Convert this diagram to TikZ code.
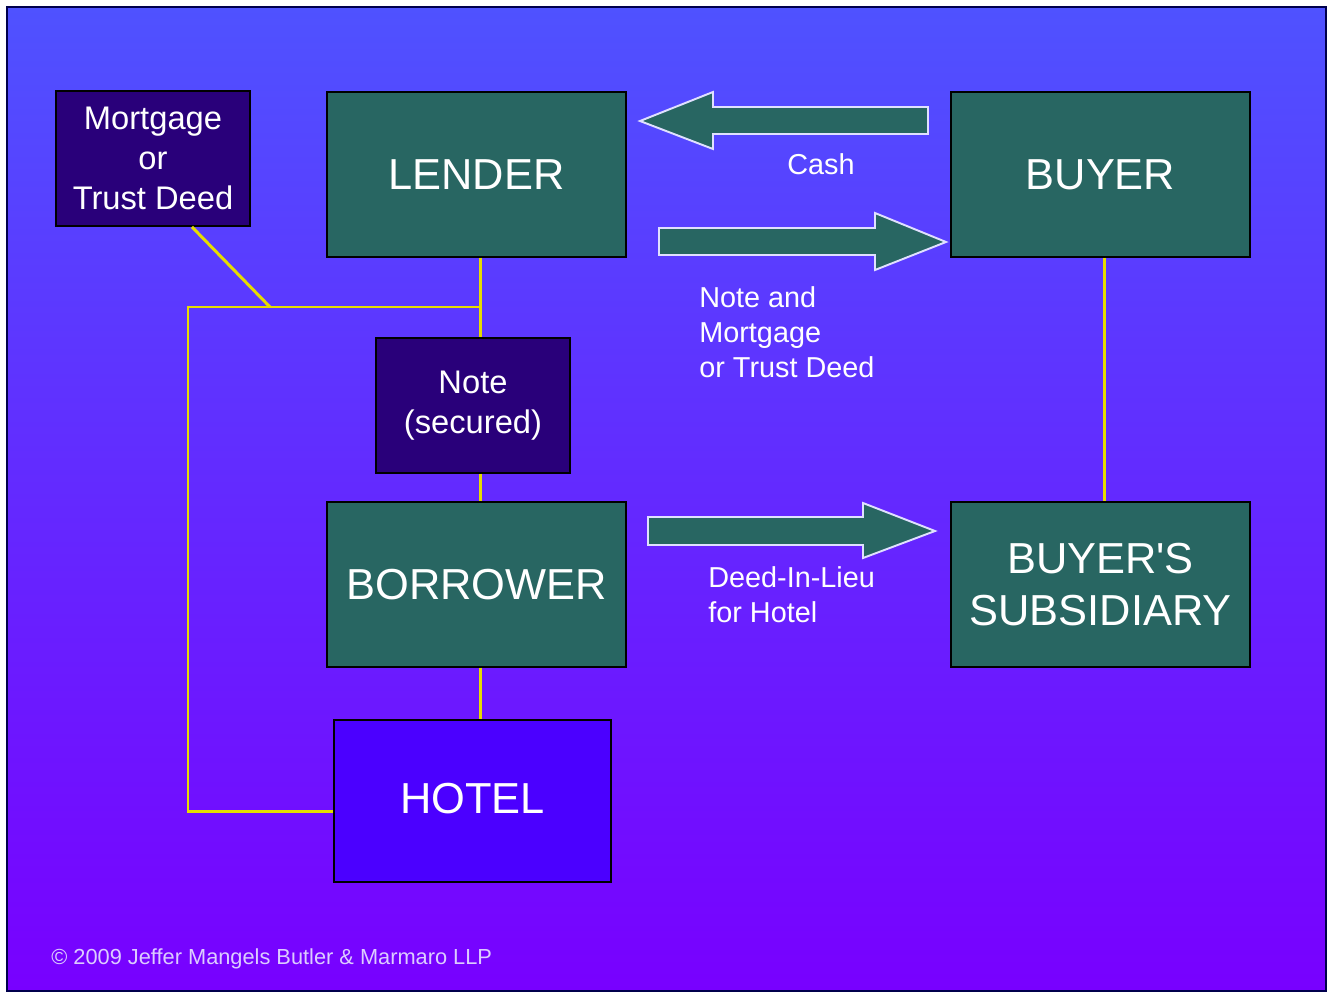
\documentclass[tikz,border=0pt]{standalone}
\usepackage{fontspec}
\setmainfont{Liberation Sans}
\usetikzlibrary{positioning, calc}
\definecolor{slideblue}{HTML}{4F52FF}
\definecolor{slidepurple}{HTML}{7800FF}
\definecolor{dealteal}{HTML}{286662}
\definecolor{docnavy}{HTML}{29007A}
\definecolor{hotelblue}{HTML}{4B00FF}
\definecolor{linkyellow}{HTML}{E6DC00}
\definecolor{creditlav}{HTML}{DCCCFF}

\begin{document}
\begin{tikzpicture}[x=0.02cm, y=-0.02cm,
  party/.style={rectangle, draw=black, line width=1.1pt, fill=dealteal, text=white,
    minimum width=5.98cm, minimum height=3.3cm, font=\fontsize{24.7}{30}\selectfont, align=center},
  paper/.style={rectangle, draw=black, line width=1.1pt, fill=docnavy, text=white,
    minimum width=3.88cm, minimum height=2.7cm, font=\fontsize{18.6}{22.8}\selectfont, align=center},
  link/.style={linkyellow, line width=1.7pt},
  flow/.style={draw=white!88!blue, line width=1.1pt, fill=dealteal, line join=miter},
  tag/.style={text=white, font=\fontsize{16.4}{19.9}\selectfont, align=left, inner sep=0pt}
]
  % slide
  \useasboundingbox[fill=white] (0,0) rectangle (1331,993);
  \shade[top color=slideblue, bottom color=slidepurple, draw=black!70!blue, line width=0.8pt]
    (7,7) rectangle (1326,991);

  % parties and papers
  \node[paper] (mortgage) at (153,158.5) {Mortgage\\or\\Trust Deed};
  \node[party] (lender) at (476.5,174.5) {LENDER};
  \node[party] (buyer) at (1100.5,174.5) {BUYER};
  \node[paper] (note) at (473,405.5) {Note\\(secured)};
  \node[party] (borrower) at (476.5,584.5) {BORROWER};
  \node[party] (subsid) at (1100.5,584.5) {BUYER\textquotesingle S\\SUBSIDIARY};
  \node[party, fill=hotelblue, minimum width=5.54cm, minimum height=3.24cm] (hotel) at (472.5,801)
    {\raisebox{0.12cm}{HOTEL}};

  % yellow links
  \coordinate (spine) at (480,307);
  \coordinate (corner) at (188,307);
  \coordinate (foot) at (188,811);
  \draw[link] ($(mortgage.south)+(39,0)$) -- (270,307);
  \draw[link] (spine |- lender.south) -- (spine |- note.north);
  \draw[link] (spine |- note.south) -- (spine |- borrower.north);
  \draw[link] (spine |- borrower.south) -- (spine |- hotel.north);
  \draw[link] (spine) -- (corner) -- (foot) -- (hotel.west |- foot);
  \draw[link] ([xshift=0.07cm]buyer.south) -- ([xshift=0.07cm]subsid.north);

  % block arrows
  \draw[flow] (640,121) -- (713,92) -- (713,107) -- (928,107) -- (928,134) -- (713,134) -- (713,149) -- cycle;
  \draw[flow] (946,242) -- (875,213) -- (875,228) -- (659,228) -- (659,255) -- (875,255) -- (875,270) -- cycle;
  \draw[flow] (935,531) -- (863,503) -- (863,517) -- (648,517) -- (648,545) -- (863,545) -- (863,558) -- cycle;

  \node[tag] (cashLbl) at (821,164) {Cash};
  \node[tag, anchor=west] (noteLbl) at (699,332) {Note and\\Mortgage\\or Trust Deed};
  \node[tag, anchor=west] (deedLbl) at (708,594.5) {Deed-In-Lieu\\for Hotel};

  \node[anchor=west, text=creditlav, font=\fontsize{12.4}{14}\selectfont, inner sep=0pt] (credit) at (51,959)
    {\textcopyright{} 2009 Jeffer Mangels Butler \& Marmaro LLP};
\end{tikzpicture}
\end{document}
